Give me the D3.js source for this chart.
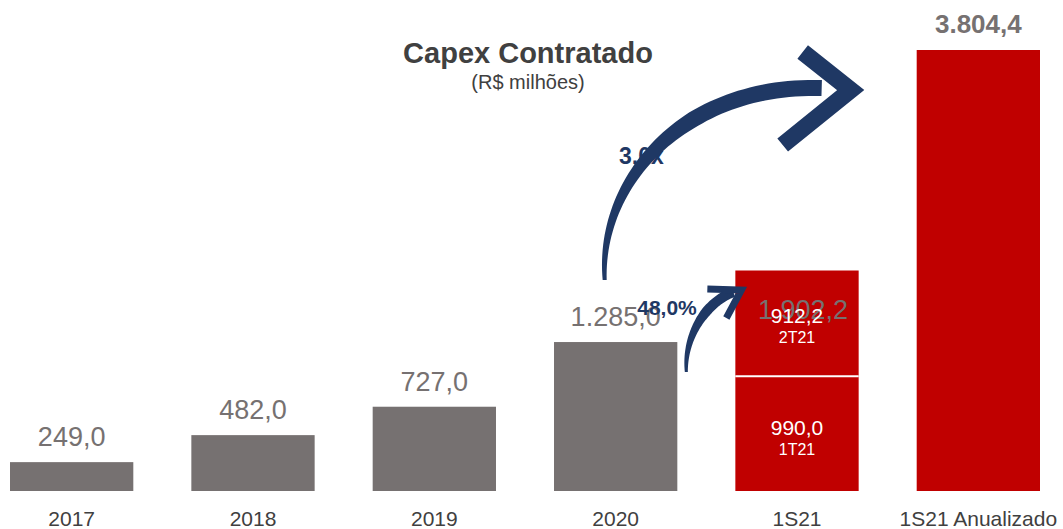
<!DOCTYPE html>
<html>
<head>
<meta charset="utf-8">
<script src="https://cdn.jsdelivr.net/npm/d3@7"></script>
<style>
  body { margin: 0; background: #fff; }
  text { font-family: Arial, "Liberation Sans", sans-serif; }
</style>
</head>
<body>
<script>
var categories = ["2017", "2018", "2019", "2020", "1S21", "1S21 Anualizado"];
var values = [249.0, 482.0, 727.0, 1285.0, 1902.2, 3804.4];
var valueLabels = ["249,0", "482,0", "727,0", "1.285,0", "1.902,2", "3.804,4"];
var barColors = ["#767171", "#767171", "#767171", "#767171", "#c00000", "#c00000"];
var segCategory = "1S21";
var segValues = [990.0, 912.2];
var segLabels = ["990,0", "912,2"];
var segNames = ["1T21", "2T21"];

var width = 1063, height = 529;
var svg = d3.select("body").append("svg")
  .attr("width", width)
  .attr("height", height);

var x = d3.scaleBand()
  .domain(categories)
  .range([10, 1040])
  .paddingInner(0.32)
  .paddingOuter(0);

var y = d3.scaleLinear()
  .domain([0, 3804.4])
  .range([491, 50]);

// bars (1S21 drawn as two stacked segments)
categories.forEach(function (c, i) {
  if (c == segCategory) return;
  svg.append("rect")
    .attr("x", x(c))
    .attr("y", y(values[i]))
    .attr("width", x.bandwidth())
    .attr("height", y(0) - y(values[i]))
    .attr("fill", barColors[i]);
});

var base = 0;
segValues.forEach(function (v, j) {
  var y0 = y(base), y1 = y(base + v);
  svg.append("rect")
    .attr("x", x(segCategory))
    .attr("y", y1)
    .attr("width", x.bandwidth())
    .attr("height", y0 - y1)
    .attr("fill", "#c00000");
  if (j > 0) {
    svg.append("line")
      .attr("x1", x(segCategory)).attr("x2", x(segCategory) + x.bandwidth())
      .attr("y1", y0).attr("y2", y0)
      .attr("stroke", "#fff").attr("stroke-width", 2);
  }
  base += v;
});

// value labels
categories.forEach(function (c, i) {
  var last = i == categories.length - 1;
  var cx = x(c) + x.bandwidth() / 2;
  var ty = y(values[i]) - 16;
  if (c == segCategory) { cx += 6; ty = y(values[i]) + 48; }
  if (last) ty = y(values[i]) - 17;
  svg.append("text")
    .attr("x", cx)
    .attr("y", ty)
    .attr("text-anchor", "middle")
    .attr("fill", "#767171")
    .style("font-size", last ? "26px" : "27px")
    .style("font-weight", last ? "bold" : "normal")
    .text(valueLabels[i]);
});

// segment labels
base = 0;
segValues.forEach(function (v, j) {
  var mid = y(base + v / 2);
  var cx = x(segCategory) + x.bandwidth() / 2;
  if (j == 1) mid = y(base + v) + 52;
  else mid = mid + 1;
  svg.append("text")
    .attr("x", cx).attr("y", mid)
    .attr("text-anchor", "middle").attr("fill", "#fff")
    .style("font-size", "21px")
    .text(segLabels[j]);
  svg.append("text")
    .attr("x", cx).attr("y", mid + 20)
    .attr("text-anchor", "middle").attr("fill", "#fff")
    .style("font-size", "16px")
    .text(segNames[j]);
  base += v;
});

// category axis labels
categories.forEach(function (c) {
  svg.append("text")
    .attr("x", x(c) + x.bandwidth() / 2)
    .attr("y", 526)
    .attr("text-anchor", "middle")
    .attr("fill", "#404040")
    .style("font-size", "21px")
    .text(c);
});

// title
svg.append("text")
  .attr("x", 528).attr("y", 63)
  .attr("text-anchor", "middle").attr("fill", "#404040")
  .style("font-size", "29px").style("font-weight", "bold")
  .text("Capex Contratado");
svg.append("text")
  .attr("x", 528).attr("y", 89)
  .attr("text-anchor", "middle").attr("fill", "#404040")
  .style("font-size", "20px")
  .text("(R$ milhões)");

// annotation labels (under the arrows)
var navy = "#1f3864";
svg.append("text")
  .attr("x", 619).attr("y", 164)
  .attr("fill", navy)
  .style("font-size", "23px").style("font-weight", "bold")
  .text("3,0x");
svg.append("text")
  .attr("x", 667).attr("y", 315)
  .attr("text-anchor", "middle").attr("fill", navy)
  .style("font-size", "21px").style("font-weight", "bold")
  .text("48,0%");

// tapered brush arrow along a cubic bezier
function taperArrow(p, w0, w1) {
  var n = 60, left = [], right = [];
  for (var k = 0; k <= n; k++) {
    var t = k / n, u = 1 - t;
    var px = u*u*u*p[0][0] + 3*u*u*t*p[1][0] + 3*u*t*t*p[2][0] + t*t*t*p[3][0];
    var py = u*u*u*p[0][1] + 3*u*u*t*p[1][1] + 3*u*t*t*p[2][1] + t*t*t*p[3][1];
    var dx = 3*u*u*(p[1][0]-p[0][0]) + 6*u*t*(p[2][0]-p[1][0]) + 3*t*t*(p[3][0]-p[2][0]);
    var dy = 3*u*u*(p[1][1]-p[0][1]) + 6*u*t*(p[2][1]-p[1][1]) + 3*t*t*(p[3][1]-p[2][1]);
    var len = Math.sqrt(dx*dx + dy*dy) || 1;
    var w = (w0 + (w1 - w0) * Math.min(1, t * 1.6)) / 2;
    left.push([px - dy/len*w, py + dx/len*w]);
    right.push([px + dy/len*w, py - dx/len*w]);
  }
  return left.concat(right.reverse());
}

// big arrow: from 2020 bar up to the annualized bar
var bx0 = x("2020") + x.bandwidth() / 2 - 11;
var bx1 = x("1S21 Anualizado");
var big = [[bx0, 280], [bx0 - 6, 180], [bx0 + 80, 84], [bx1 - 95, 88]];
svg.append("path")
  .attr("d", d3.line()(taperArrow(big, 4, 16)) + "Z")
  .attr("fill", navy);
svg.append("path")
  .attr("d", d3.line()([[bx1 - 114, 52], [bx1 - 66, 90], [bx1 - 134, 145]]))
  .attr("fill", "none").attr("stroke", navy)
  .attr("stroke-width", 17).attr("stroke-linejoin", "miter");

// small arrow: from 2020 bar to 1S21 bar
var sx0 = x("2020") + x.bandwidth() + 9;
var sx1 = x("1S21");
var small = [[sx0, 372], [sx0 - 2, 335], [sx0 + 20, 302], [sx1 - 2, 292]];
svg.append("path")
  .attr("d", d3.line()(taperArrow(small, 3, 10)) + "Z")
  .attr("fill", navy);
svg.append("path")
  .attr("d", d3.line()([[sx1 - 28, 289], [sx1 + 6, 290], [sx1 - 9, 318]]))
  .attr("fill", "none").attr("stroke", navy)
  .attr("stroke-width", 7);
</script>
</body>
</html>
